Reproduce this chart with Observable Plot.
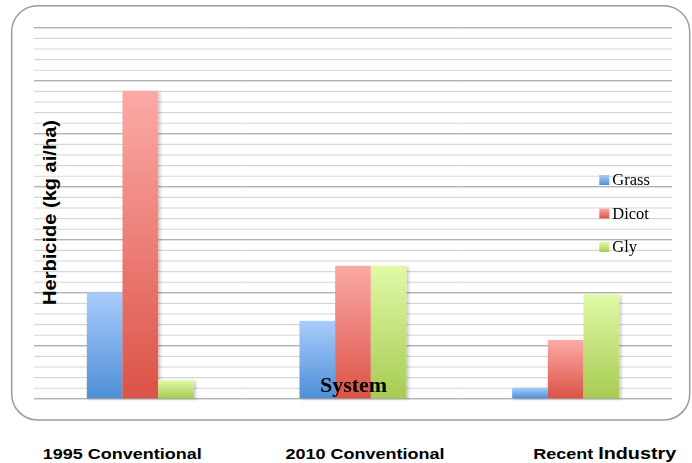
<!DOCTYPE html>
<html><head><meta charset="utf-8">
<script src="https://cdn.jsdelivr.net/npm/d3@7"></script>
<script src="https://cdn.jsdelivr.net/npm/@observablehq/plot@0.6"></script>
<style>
body{margin:0;background:#fff;}
#wrap{width:692px;height:463px;overflow:hidden;}
#chart svg, #cap svg{display:block;}
</style></head><body>
<div id="wrap"><div id="chart"></div><div id="cap"></div></div>
<script>
const categories = ["1995 Conventional", "2010 Conventional", "Recent Industry"];
const series = ["Grass", "Dicot", "Gly"];
const grass = [1.0, 0.73, 0.1];
const dicot = [2.9, 1.25, 0.55];
const gly = [0.17, 1.25, 0.98];
const gradTop = ["#a9ccfc", "#fcaaa6", "#e1f9a6"];
const gradBottom = ["#4e8fd7", "#db5347", "#a7cc53"];
const majorTicks = [0, 0.5, 1, 1.5, 2, 2.5, 3, 3.5];
const minorTicks = d3.range(0, 36).map(i => i / 10);
const yTitle = "Herbicide (kg ai/ha)";
const xTitle = "System";

const valuesBySeries = [grass, dicot, gly];
const data = categories.flatMap((c, i) => series.map((s, j) => ({cat: c, series: s, value: valuesBySeries[j][i]})));

const plot = Plot.plot({
  width: 692,
  height: 430,
  marginLeft: 34,
  marginRight: 20,
  marginTop: 27.3,
  marginBottom: 31.7,
  style: {background: "transparent", fontFamily: "Liberation Serif, serif"},
  fx: {domain: categories, padding: 0, axis: null, round: false},
  x: {domain: series, paddingInner: 0, paddingOuter: 1.48, axis: null, round: false},
  y: {domain: [0, 3.5], axis: null},
  color: {domain: series, range: series.map(s => `url(#grad-${s})`)},
  marks: [
    Plot.ruleY(minorTicks, {stroke: "#d6d6d6", strokeWidth: 1.1}),
    Plot.ruleY(majorTicks, {stroke: "#a3a3a3", strokeWidth: 1.1}),
    Plot.barY(data, {fx: "cat", x: "series", y: "value", fill: "series"}),
    Plot.text([{cat: categories[1]}], {fx: "cat", frameAnchor: "bottom", lineAnchor: "bottom", dy: -6.6,
      text: () => xTitle, fontSize: 22, fontWeight: "bold", fill: "#000", fontFamily: "Liberation Serif, serif"})
  ]
});

const svg = d3.select(plot);
const defs = svg.insert("defs", ":first-child");
series.forEach((s, i) => {
  const g = defs.append("linearGradient").attr("id", "grad-" + s)
    .attr("x1", 0).attr("y1", 0).attr("x2", 0).attr("y2", 1);
  g.append("stop").attr("offset", 0).attr("stop-color", gradTop[i]);
  g.append("stop").attr("offset", 1).attr("stop-color", gradBottom[i]);
});
const f = defs.append("filter").attr("id", "shadow").attr("x", "-20%").attr("y", "-5%").attr("width", "150%").attr("height", "115%");
f.append("feDropShadow").attr("dx", 2).attr("dy", 1).attr("stdDeviation", 1.6)
  .attr("flood-color", "#000").attr("flood-opacity", 0.22);
svg.selectAll('g[aria-label="bar"]').attr("filter", "url(#shadow)");

// rounded chart box
svg.insert("rect", "g").attr("x", 11.7).attr("y", 5.7).attr("width", 678).attr("height", 414.3)
  .attr("rx", 26).attr("ry", 26).attr("fill", "#fff").attr("stroke", "#9a9a9a").attr("stroke-width", 1.5);

// y title
svg.append("text").attr("transform", "translate(56,212.5) rotate(-90)")
  .attr("text-anchor", "middle").attr("font-family", "Liberation Sans, Arial, sans-serif")
  .attr("font-weight", "bold").attr("font-size", 18.5).attr("fill", "#000")
  .attr("textLength", 185).attr("lengthAdjust", "spacingAndGlyphs").text(yTitle);

// legend
const leg = svg.append("g").attr("font-family", "Liberation Serif, serif").attr("font-size", 16.5)
  .attr("text-anchor", "start");
series.forEach((s, i) => {
  const y = 175 + i * 33.5;
  leg.append("rect").attr("x", 599.3).attr("y", y).attr("width", 10).attr("height", 10)
    .attr("fill", `url(#grad-${s})`);
  leg.append("text").attr("x", 612.3).attr("y", y + 10.3).attr("fill", "#000")
    .attr("text-anchor", "start").text(s);
});

document.getElementById("chart").appendChild(plot);

// category labels below the chart box
const cap = d3.select("#cap").append("svg").attr("width", 692).attr("height", 33);
const capX = [122.3, 365, 604.7];
categories.forEach((c, i) => {
  const t = cap.append("text").attr("transform", `translate(${capX[i]},28.5) scale(1.2,1)`)
    .attr("text-anchor", "middle").attr("font-family", "Liberation Sans, Arial, sans-serif")
    .attr("font-weight", "bold").attr("font-size", 15).attr("fill", "#000");
  const words = c.split(" ");
  if (i === 2) {
    t.append("tspan").text(words[0] + " ");
    t.append("tspan").attr("font-size", 16.5).text(words.slice(1).join(" "));
  } else {
    t.text(c);
  }
});
</script>
</body></html>
